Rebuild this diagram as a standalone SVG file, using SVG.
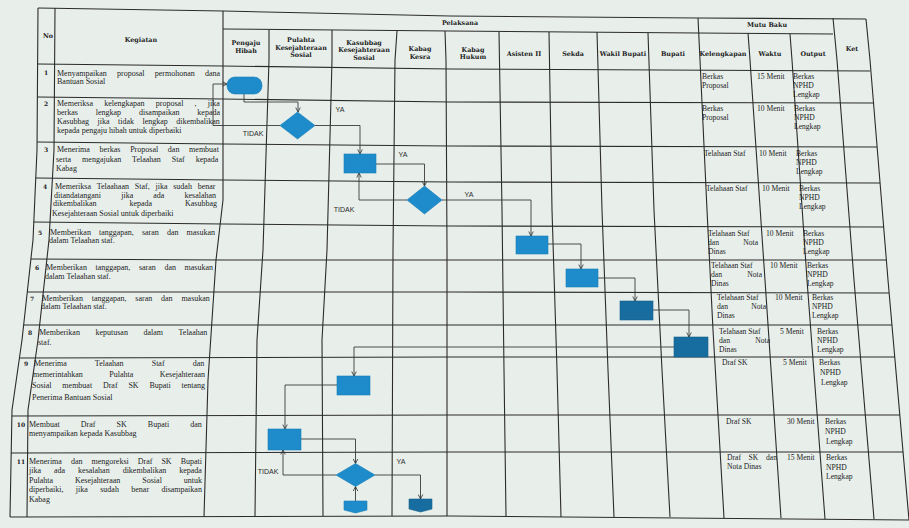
<svg xmlns="http://www.w3.org/2000/svg" width="909" height="528" viewBox="0 0 909 528">
<defs>
<style>
.g{fill:none;stroke:#2b2b2b;stroke-width:1.1}
.c{fill:none;stroke:#3a3a3a;stroke-width:0.9;marker-end:url(#ah)}
.b{fill:#1e8cca;stroke:#177cb6;stroke-width:0.6}
.s{fill:#176d9f;stroke:#145f8b;stroke-width:0.6}
.h{font-family:"DejaVu Serif","Liberation Serif",serif;font-weight:bold;font-size:6.4px;fill:#1a1a1a;text-anchor:middle}
.n{font-family:"DejaVu Serif","Liberation Serif",serif;font-weight:bold;font-size:6px;fill:#1a1a1a;text-anchor:middle}
.t{font-family:"Liberation Serif",serif;font-size:8px;fill:#1c1c1c}
.m{font-family:"Liberation Serif",serif;font-size:7.6px;fill:#1c1c1c}
.l{font-family:"Liberation Sans",Arial,sans-serif;font-size:7px;fill:#2a2a2a;text-anchor:middle}
</style>
<marker id="ah" viewBox="0 0 8 8" refX="7" refY="4" markerWidth="6" markerHeight="6" orient="auto" markerUnits="userSpaceOnUse">
<path d="M1,1 L7,4 L1,7" fill="none" stroke="#333" stroke-width="1.1"/>
</marker>
</defs>
<rect width="909" height="528" fill="#e8efeb"/>

<g id="grid">
<polyline class="g" points="38,8 223,11 450,16 698,18 866,19"/>
<polyline class="g" points="223,29 450,31 698,33 833,34"/>
<polyline class="g" points="38,64 223,66 450,69 870,71"/>
<polyline class="g" points="37.4,97 223,99 450,102 873.5,103"/>
<polyline class="g" points="37.1,142 223,144 450,146 877,147"/>
<polyline class="g" points="35.8,178 223,180 450,182 880,183"/>
<polyline class="g" points="33.8,222 223,224 450,226 884,227"/>
<polyline class="g" points="30.9,259 223,260 480,260 886.4,260"/>
<polyline class="g" points="27.3,292 450,292 889,293"/>
<polyline class="g" points="23.7,325 450,325 892,325"/>
<polyline class="g" points="19.4,358 450,357 895,357"/>
<polyline class="g" points="11.9,416 450,415 900,415"/>
<polyline class="g" points="11.2,453 450,452 903,452"/>
<polyline class="g" points="10,517 450,516 909,520"/>
<polyline class="g" points="38,8 37,150 33,240 22,340 12,410 10,517"/>
<polyline class="g" points="55,8 54,150 49,240 38,340 28,410 27,517"/>
<polyline class="g" points="223,11 223,200 216,260 208,380 204,517"/>
<polyline class="g" points="269,30 269,60 263,250 257,340 255,516"/>
<polyline class="g" points="332,30 332,60 327,250 322,340 323,516"/>
<polyline class="g" points="397,31 395,60 393,250 392,516"/>
<polyline class="g" points="445,31 446,60 447,250 447,516"/>
<polyline class="g" points="499,32 502,210 504,370 506,516"/>
<polyline class="g" points="549,32 552,210 557,370 561,517"/>
<polyline class="g" points="597,32 602,210 608,370 614,517"/>
<polyline class="g" points="648,33 654,210 662,370 670,517"/>
<polyline class="g" points="698,18 700,60 707,210 713,330 724,518"/>
<polyline class="g" points="748,33 750,60 765,280 781,518"/>
<polyline class="g" points="790,34 792,60 807,280 825,519"/>
<polyline class="g" points="833,18 837,60 854,280 874,519"/>
<polyline class="g" points="866,19 870,60 888,280 909,520"/>
</g>

<g id="header">
<text class="h" x="48" y="38">No</text>
<text class="h" x="141" y="42">Kegiatan</text>
<text class="h" x="460" y="25">Pelaksana</text>
<text class="h" x="767" y="27">Mutu Baku</text>
<text class="h" x="852" y="51">Ket</text>
<text class="h" x="246" y="45">Pengaju</text>
<text class="h" x="246" y="52.5">Hibah</text>
<text class="h" x="301" y="42">Pulahta</text>
<text class="h" x="301" y="49.5">Kesejahteraan</text>
<text class="h" x="301" y="57">Sosial</text>
<text class="h" x="364" y="45">Kasubbag</text>
<text class="h" x="364" y="52">Kesejahteraan</text>
<text class="h" x="364" y="59.5">Sosial</text>
<text class="h" x="420" y="51">Kabag</text>
<text class="h" x="420" y="58.5">Kesra</text>
<text class="h" x="473" y="52">Kabag</text>
<text class="h" x="473" y="59">Hukum</text>
<text class="h" x="524" y="55.5">Asisten II</text>
<text class="h" x="573" y="55.5">Sekda</text>
<text class="h" x="623" y="55.5">Wakil Bupati</text>
<text class="h" x="673" y="55.5">Bupati</text>
<text class="h" x="723" y="56">Kelengkapan</text>
<text class="h" x="770" y="56">Waktu</text>
<text class="h" x="813" y="56">Output</text>
</g>

<g id="numbers">
<text class="n" x="46" y="74.5">1</text>
<text class="n" x="46" y="105.5">2</text>
<text class="n" x="46" y="151.5">3</text>
<text class="n" x="45" y="188.5">4</text>
<text class="n" x="40" y="234.5">5</text>
<text class="n" x="37" y="269.5">6</text>
<text class="n" x="32" y="300.5">7</text>
<text class="n" x="30" y="334.5">8</text>
<text class="n" x="26" y="365.5">9</text>
<text class="n" x="21" y="426.5">10</text>
<text class="n" x="21" y="463.5">11</text>
</g>

<g id="kegiatan">
<text class="t" x="57" y="75.5" word-spacing="8.2">Menyampaikan proposal permohonan dana</text>
<text class="t" x="57" y="84">Bantuan Sosial</text>
<text class="t" x="57" y="105.5" word-spacing="9.2">Memeriksa kelengkapan proposal , jika</text>
<text class="t" x="57" y="115" word-spacing="15.9">berkas lengkap disampaikan kepada</text>
<text class="t" x="57" y="124" word-spacing="6.5">Kasubbag jika tidak lengkap dikembalikan</text>
<text class="t" x="57" y="133">kepada pengaju hibah untuk diperbaiki</text>
<text class="t" x="57" y="151.5" word-spacing="7.7">Menerima berkas Proposal dan membuat</text>
<text class="t" x="56" y="161.5" word-spacing="9">serta mengajukan Telaahan Staf kepada</text>
<text class="t" x="56" y="170.5">Kabag</text>
<text class="t" x="55" y="188.5" word-spacing="3.8">Memeriksa Telaahaan Staf, jika sudah benar</text>
<text class="t" x="54" y="197.5" word-spacing="18.1">ditandatangani jika ada kesalahan</text>
<text class="t" x="53" y="206" word-spacing="30.9">dikembalikan kepada Kasubbag</text>
<text class="t" x="52" y="215.5">Kesejahteraan Sosial untuk diperbaiki</text>
<text class="t" x="50" y="234.5" word-spacing="6.1">Memberikan tanggapan, saran dan masukan</text>
<text class="t" x="49" y="242.5">dalam Telaahan staf.</text>
<text class="t" x="46" y="269.5" word-spacing="6.6">Memberikan tanggapan, saran dan masukan</text>
<text class="t" x="45" y="278.5">dalam Telaahan staf.</text>
<text class="t" x="42" y="300.5" word-spacing="6.8">Memberikan tanggapan, saran dan masukan</text>
<text class="t" x="41" y="308.5">dalam Telaahan staf.</text>
<text class="t" x="39" y="334.5" word-spacing="13.6">Memberikan keputusan dalam Telaahan</text>
<text class="t" x="38" y="344.5">staf.</text>
<text class="t" x="34" y="365.5" word-spacing="26.1">Menerima Telaahan Staf dan</text>
<text class="t" x="33" y="376.5" word-spacing="24.5">memerintahkan Pulahta Kesejahteraan</text>
<text class="t" x="32" y="387.5" word-spacing="8.8">Sosial membuat Draf SK Bupati tentang</text>
<text class="t" x="32" y="399.5">Penerima Bantuan Sosial</text>
<text class="t" x="29" y="426.5" word-spacing="19.1">Membuat Draf SK Bupati dan</text>
<text class="t" x="29" y="435.5">menyampaikan kepada Kasubbag</text>
<text class="t" x="29" y="463.5" word-spacing="7">Menerima dan mengoreksi Draf SK Bupati</text>
<text class="t" x="29" y="472.5" word-spacing="11">jika ada kesalahan dikembalikan kepada</text>
<text class="t" x="29" y="482.5" word-spacing="20">Pulahta Kesejahteraan Sosial untuk</text>
<text class="t" x="29" y="491.5" word-spacing="10.4">diperbaiki, jika sudah benar disampaikan</text>
<text class="t" x="29" y="501.5">Kabag</text>
</g>

<g id="mutu-baku">
<text class="m" x="702" y="78.5">Berkas</text>
<text class="m" x="702" y="87.5">Proposal</text>
<text class="m" x="757" y="78.5">15 Menit</text>
<text class="m" x="793" y="78.5">Berkas</text>
<text class="m" x="793" y="87.5">NPHD</text>
<text class="m" x="793" y="96.5">Lengkap</text>
<text class="m" x="702" y="110.5">Berkas</text>
<text class="m" x="702" y="119.5">Proposal</text>
<text class="m" x="757" y="110.5">10 Menit</text>
<text class="m" x="794" y="110.5">Berkas</text>
<text class="m" x="794" y="119.5">NPHD</text>
<text class="m" x="794" y="129">Lengkap</text>
<text class="m" x="704" y="155.5">Telahaan Staf</text>
<text class="m" x="759" y="155.5">10 Menit</text>
<text class="m" x="796" y="155.5">Berkas</text>
<text class="m" x="796" y="164.5">NPHD</text>
<text class="m" x="796" y="173.5">Lengkap</text>
<text class="m" x="706" y="190.5">Telahaan Staf</text>
<text class="m" x="762" y="190.5">10 Menit</text>
<text class="m" x="799" y="190.5">Berkas</text>
<text class="m" x="799" y="199.5">NPHD</text>
<text class="m" x="799" y="208.5">Lengkap</text>
<text class="m" x="708" y="235.5">Telahaan Staf</text>
<text class="m" x="708" y="244.5" word-spacing="22.4">dan Nota</text>
<text class="m" x="708" y="253.5">Dinas</text>
<text class="m" x="766" y="235.5">10 Menit</text>
<text class="m" x="803" y="235.5">Berkas</text>
<text class="m" x="803" y="244.5">NPHD</text>
<text class="m" x="803" y="253.5">Lengkap</text>
<text class="m" x="711" y="267.5">Telahaan Staf</text>
<text class="m" x="711" y="276.5" word-spacing="23.4">dan Nota</text>
<text class="m" x="711" y="285.5">Dinas</text>
<text class="m" x="770" y="267.5">10 Menit</text>
<text class="m" x="807" y="267.5">Berkas</text>
<text class="m" x="807" y="276.5">NPHD</text>
<text class="m" x="807" y="285.5">Lengkap</text>
<text class="m" x="717" y="299.5">Telahaan Staf</text>
<text class="m" x="717" y="309" word-spacing="21.4">dan Nota</text>
<text class="m" x="717" y="318">Dinas</text>
<text class="m" x="775" y="299.5">10 Menit</text>
<text class="m" x="812" y="299.5">Berkas</text>
<text class="m" x="812" y="309">NPHD</text>
<text class="m" x="812" y="318">Lengkap</text>
<text class="m" x="719" y="333.5">Telahaan Staf</text>
<text class="m" x="719" y="342.5" word-spacing="23.4">dan Nota</text>
<text class="m" x="719" y="351.5">Dinas</text>
<text class="m" x="780" y="333.5">5 Menit</text>
<text class="m" x="817" y="333.5">Berkas</text>
<text class="m" x="817" y="342.5">NPHD</text>
<text class="m" x="817" y="351.5">Lengkap</text>
<text class="m" x="722" y="364.5">Draf SK</text>
<text class="m" x="783" y="364.5">5 Menit</text>
<text class="m" x="819" y="364.5">Berkas</text>
<text class="m" x="820" y="374.5">NPHD</text>
<text class="m" x="821" y="384.5">Lengkap</text>
<text class="m" x="726" y="423.5">Draf SK</text>
<text class="m" x="787" y="423.5">30 Menit</text>
<text class="m" x="825" y="423.5">Berkas</text>
<text class="m" x="825" y="433.5">NPHD</text>
<text class="m" x="826" y="443.5">Lengkap</text>
<text class="m" x="727" y="459.5" word-spacing="5.8">Draf SK dan</text>
<text class="m" x="727" y="468.5">Nota Dinas</text>
<text class="m" x="787" y="459.5">15 Menit</text>
<text class="m" x="826" y="459.5">Berkas</text>
<text class="m" x="826" y="469.5">NPHD</text>
<text class="m" x="826" y="478.5">Lengkap</text>
</g>

<g id="connectors">
<path class="c" d="M280,125.5 H213 V84 H227"/>
<path class="c" d="M244,94 V102 H298 V112"/>
<path class="c" d="M315,125.5 H360 V154"/>
<path class="c" d="M376,164 H424.5 V186"/>
<path class="c" d="M407,200 H359 V173"/>
<path class="c" d="M442,200 H531 V236"/>
<path class="c" d="M548,244 H581 V269"/>
<path class="c" d="M598,278 H635 V301"/>
<path class="c" d="M653,310 H689 V337"/>
<path class="c" d="M674,347 H354 V376"/>
<path class="c" d="M337,385 H285 V429"/>
<path class="c" d="M301,439 H355.5 V463.5"/>
<path class="c" d="M336,475 H283 V450"/>
<path class="c" d="M375,475 H420.5 V499"/>
<path class="c" d="M355.5,501 V486.5"/>
<text class="l" x="253" y="135.5">TIDAK</text>
<text class="l" x="340" y="111.5">YA</text>
<text class="l" x="403" y="156.5">YA</text>
<text class="l" x="344" y="211.5">TIDAK</text>
<text class="l" x="469" y="196.5">YA</text>
<text class="l" x="268" y="473.5">TIDAK</text>
<text class="l" x="401" y="463.5">YA</text>
</g>

<g id="n1-mulai"><rect class="b" x="227" y="77" width="35" height="17" rx="8" ry="8"/></g>
<g id="n2-periksa"><polygon class="b" points="297.5,112 315,125.5 297.5,139 280,125.5"/></g>
<g id="n3-telaahan"><rect class="b" x="344" y="154" width="32" height="19"/></g>
<g id="n4-periksa-kabag"><polygon class="b" points="424.5,186 442,200 424.5,214 407,200"/></g>
<g id="n5-asisten"><rect class="b" x="516" y="236" width="32" height="18"/></g>
<g id="n6-sekda"><rect class="b" x="566" y="269" width="32" height="18"/></g>
<g id="n7-wakil"><rect class="s" x="620" y="301" width="33" height="19"/></g>
<g id="n8-bupati"><rect class="s" x="674" y="337" width="34" height="20"/></g>
<g id="n9-kasubbag"><rect class="b" x="337" y="376" width="33" height="19"/></g>
<g id="n10-pulahta"><rect class="b" x="268" y="429" width="33" height="21"/></g>
<g id="n11-koreksi"><polygon class="b" points="355.5,463.5 375,475 355.5,486.5 336,475"/></g>
<g id="n12-konektor-a"><path class="b" d="M344,501 H367 V510 L355.5,513 L344,510 Z"/></g>
<g id="n13-konektor-b"><path class="s" d="M409,499 H432 V509 L420.5,512 L409,509 Z"/></g>
</svg>
